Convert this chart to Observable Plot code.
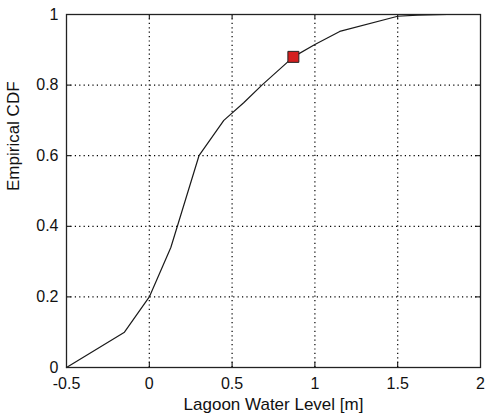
<!DOCTYPE html>
<html>
<head>
<meta charset="utf-8">
<script src="https://cdn.jsdelivr.net/npm/d3@7"></script>
<script src="https://cdn.jsdelivr.net/npm/@observablehq/plot@0.6"></script>
<style>
  html, body { margin: 0; padding: 0; background: #fff; }
  #chart svg { display: block; }
</style>
</head>
<body>
<div id="chart"></div>
<script>
// Data
const cdfX = [-0.5, -0.15, 0, 0.13, 0.3, 0.45, 0.57, 0.68, 0.87, 1.0, 1.15, 1.5, 1.62, 1.8];
const cdfY = [0, 0.1, 0.2, 0.34, 0.6, 0.70, 0.75, 0.80, 0.88, 0.915, 0.952, 0.995, 0.998, 1.0];
const markerX = [0.87];
const markerY = [0.88];
const xTicks = [-0.5, 0, 0.5, 1, 1.5, 2];
const yTicks = [0, 0.2, 0.4, 0.6, 0.8, 1];
const xGrid = [0, 0.5, 1, 1.5];
const yGrid = [0.2, 0.4, 0.6, 0.8];
const xLabel = ["Lagoon Water Level [m]"];
const yLabel = ["Empirical CDF"];

const cdf = cdfX.map((x, i) => ({x, y: cdfY[i]}));
const marker = markerX.map((x, i) => ({x, y: markerY[i]}));

const W = 485, H = 419;
const mL = 66, mR = 5, mT = 14, mB = 52;
const innerW = W - mL - mR, innerH = H - mT - mB;
const tickLen = 5;
const font = "'Liberation Sans', Arial, Helvetica, sans-serif";
const ink = "#111";

const chart = Plot.plot({
  width: W,
  height: H,
  marginLeft: mL,
  marginRight: mR,
  marginTop: mT,
  marginBottom: mB,
  style: {fontFamily: font, color: ink, background: "#fff"},
  x: {domain: [-0.5, 2]},
  y: {domain: [0, 1]},
  marks: [
    Plot.gridX(xGrid, {stroke: "#000", strokeOpacity: 1, strokeWidth: 1.2, strokeDasharray: "1.2,3.2"}),
    Plot.gridY(yGrid, {stroke: "#000", strokeOpacity: 1, strokeWidth: 1.2, strokeDasharray: "1.2,3.2"}),
    // inward ticks (bottom / top)
    Plot.tickX(xTicks, {x: d => d, stroke: "#000", insetTop: innerH - tickLen}),
    Plot.tickX(xTicks, {x: d => d, stroke: "#000", insetBottom: innerH - tickLen}),
    // inward ticks (left / right)
    Plot.tickY(yTicks, {y: d => d, stroke: "#000", insetRight: innerW - tickLen}),
    Plot.tickY(yTicks, {y: d => d, stroke: "#000", insetLeft: innerW - tickLen}),
    Plot.axisX(xTicks, {tickSize: 0, tickPadding: 10, fontSize: 16, fill: ink, tickFormat: d => String(d), label: null}),
    Plot.axisY(yTicks, {tickSize: 0, tickPadding: 8, fontSize: 16, fill: ink, tickFormat: d => String(d), label: null}),
    Plot.line(cdf, {x: "x", y: "y", stroke: "#1a1a1a", strokeWidth: 1.2}),
    Plot.dot(marker, {x: "x", y: "y", symbol: "square", r: 6.2, fill: "#d41f1f", stroke: "#222", strokeWidth: 1}),
    Plot.frame({stroke: "#222", strokeWidth: 1.3}),
    Plot.text(xLabel, {text: d => d, frameAnchor: "bottom", dy: 37, fontSize: 17, fill: ink, lineAnchor: "middle"}),
    Plot.text(yLabel, {text: d => d, frameAnchor: "left", dx: -53, rotate: -90, fontSize: 17, fill: ink, lineAnchor: "middle"})
  ]
});
document.getElementById("chart").appendChild(chart);
</script>
</body>
</html>
